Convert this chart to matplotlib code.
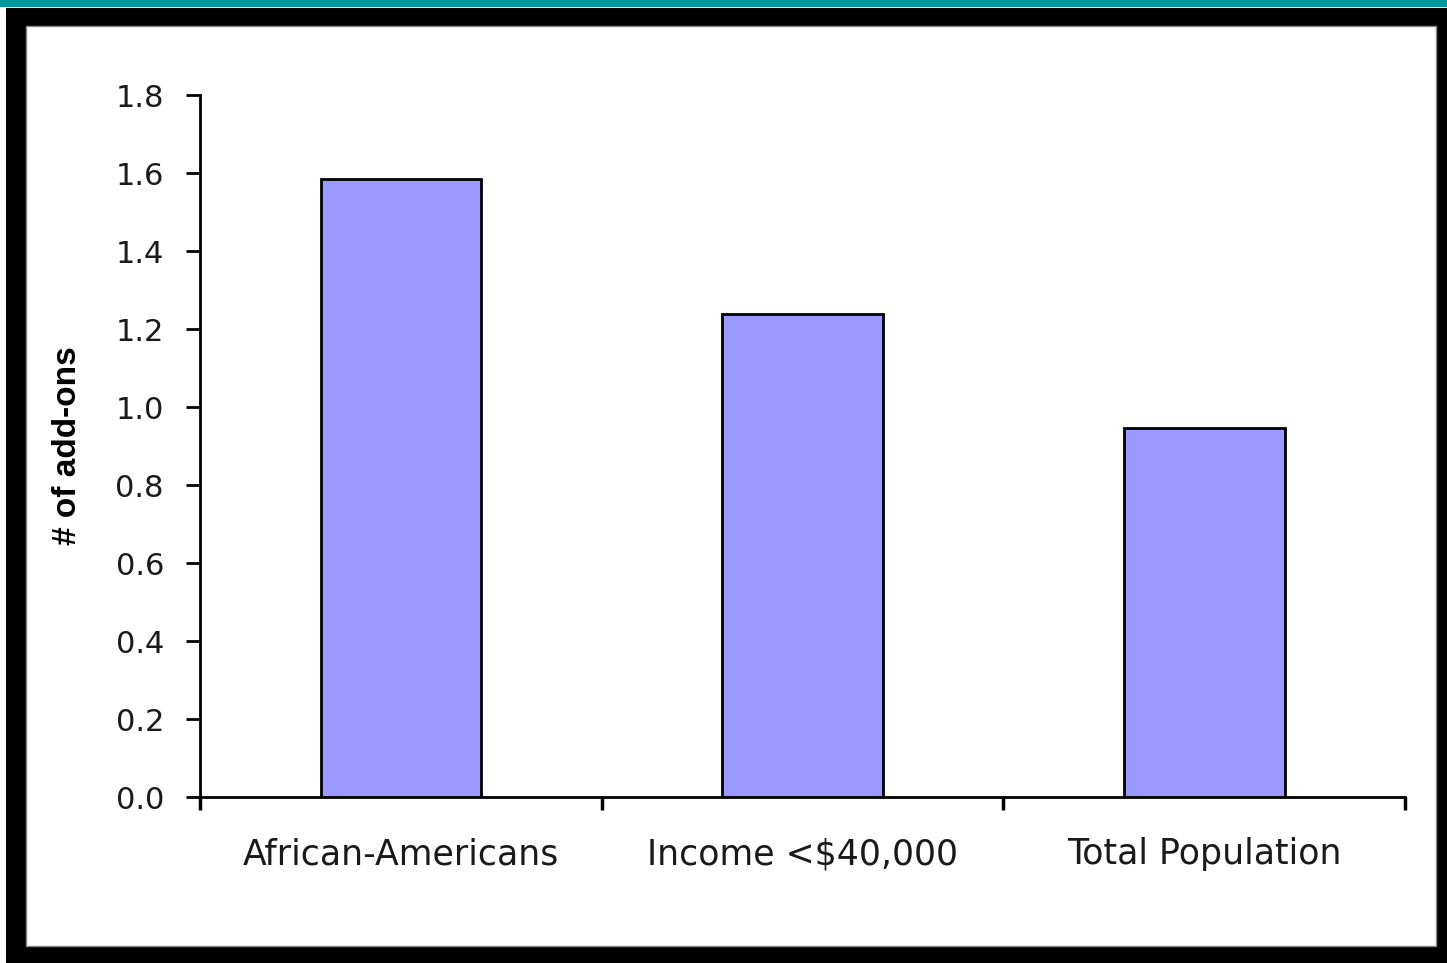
import matplotlib
matplotlib.use("Agg")
import matplotlib.pyplot as plt
from matplotlib.patches import Rectangle
import numpy as np

categories = ["African-Americans", "Income <$40,000", "Total Population"]
values = [1.585, 1.238, 0.946]
yticks = [0.0, 0.2, 0.4, 0.6, 0.8, 1.0, 1.2, 1.4, 1.6, 1.8]

W, H = 1447, 963
fig = plt.figure(figsize=(W / 100, H / 100), dpi=100)
fig.patch.set_facecolor("white")

# slide frame: teal strip on top, thick black border
fig.add_artist(Rectangle((0, 1 - 7 / H), 1, 7 / H, transform=fig.transFigure,
                         facecolor="#009999", edgecolor="none", zorder=0))
fig.add_artist(Rectangle((6 / W, 0), 1 - 6 / W, 1 - 8 / H, transform=fig.transFigure,
                         facecolor="black", edgecolor="none", zorder=0))
fig.add_artist(Rectangle((26 / W, 1 - 946 / H), (1436 - 26) / W, (946 - 26) / H,
                         transform=fig.transFigure, facecolor="white",
                         edgecolor="#888888", linewidth=1, zorder=0))

# axes: x from 200 to 1405, y from 95 (1.8) to 797 (0)
ax = fig.add_axes([200 / W, 1 - 797 / H, (1405 - 200) / W, (797 - 95) / H])
ax.set_facecolor("none")

x = np.arange(len(categories))
ax.bar(x, values, width=0.4, color="#9999FF", edgecolor="black", linewidth=2, zorder=3)

ax.set_xlim(-0.5, len(categories) - 0.5)
ax.set_ylim(0, 1.8)
ax.set_yticks(yticks)
ax.set_yticklabels(["%.1f" % v for v in yticks], fontsize=22, family="DejaVu Sans",
                   color="#1a1a1a")

ax.set_xticks(x)
ax.set_xticklabels(categories, fontsize=25, family="DejaVu Sans", color="#1a1a1a")
ax.set_xticks(np.arange(len(categories) + 1) - 0.5, minor=True)
ax.tick_params(axis="x", which="major", length=0, pad=29)
ax.tick_params(axis="x", which="minor", length=9, width=2.5, direction="out")
ax.tick_params(axis="y", length=10, width=2, direction="out", pad=16)

for s in ["top", "right"]:
    ax.spines[s].set_visible(False)
ax.spines["left"].set_linewidth(2)
ax.spines["bottom"].set_linewidth(2)

fig.text(67 / W, 1 - 446 / H, "# of add-ons", rotation=90, ha="center", va="center",
         fontsize=24, fontweight="bold", family="Liberation Sans")

fig.savefig("out.png", dpi=100)
